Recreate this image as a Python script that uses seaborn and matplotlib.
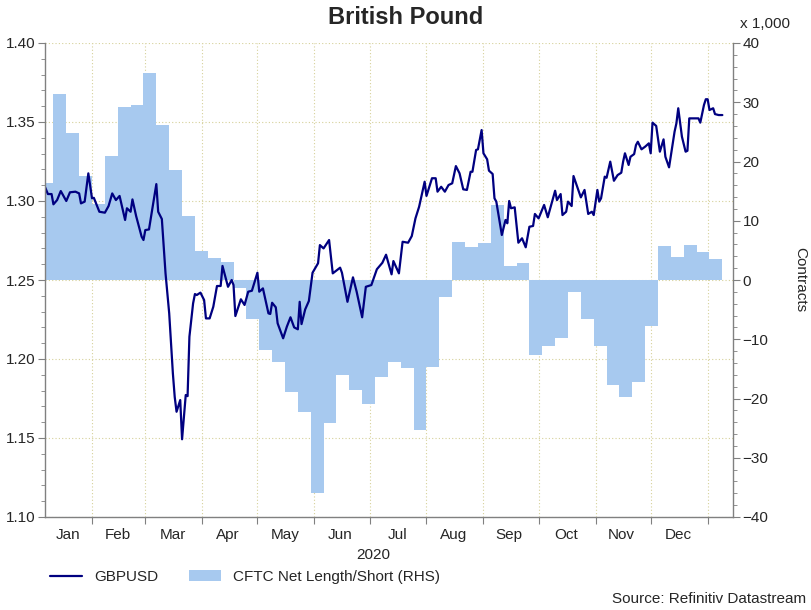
import pandas as pd
import matplotlib.pyplot as plt
import matplotlib.dates as mdates
import matplotlib.ticker as mticker
from matplotlib.lines import Line2D
from matplotlib.patches import Patch
import seaborn as sns

# GBPUSD spot
gbp_dates = [
    "2020-01-06", "2020-01-08", "2020-01-10", "2020-01-11", "2020-01-13", "2020-01-15", "2020-01-18", "2020-01-20", "2020-01-23", "2020-01-25",
    "2020-01-26", "2020-01-28", "2020-01-30", "2020-02-01", "2020-02-02", "2020-02-05", "2020-02-08", "2020-02-10", "2020-02-12", "2020-02-14",
    "2020-02-16", "2020-02-19", "2020-02-20", "2020-02-22", "2020-02-23", "2020-02-25", "2020-02-28", "2020-02-29", "2020-03-01", "2020-03-03",
    "2020-03-05", "2020-03-07", "2020-03-08", "2020-03-10", "2020-03-12", "2020-03-14", "2020-03-16", "2020-03-17", "2020-03-18", "2020-03-20",
    "2020-03-21", "2020-03-23", "2020-03-24", "2020-03-25", "2020-03-27", "2020-03-28", "2020-03-29", "2020-03-31", "2020-04-02", "2020-04-03",
    "2020-04-05", "2020-04-07", "2020-04-09", "2020-04-11", "2020-04-12", "2020-04-15", "2020-04-17", "2020-04-18", "2020-04-19", "2020-04-22",
    "2020-04-24", "2020-04-26", "2020-04-28", "2020-05-01", "2020-05-02", "2020-05-04", "2020-05-07", "2020-05-08", "2020-05-09", "2020-05-11",
    "2020-05-12", "2020-05-13", "2020-05-15", "2020-05-17", "2020-05-19", "2020-05-21", "2020-05-23", "2020-05-24", "2020-05-25", "2020-05-27",
    "2020-05-29", "2020-05-31", "2020-06-03", "2020-06-04", "2020-06-06", "2020-06-09", "2020-06-11", "2020-06-15", "2020-06-16", "2020-06-19",
    "2020-06-22", "2020-06-24", "2020-06-27", "2020-06-29", "2020-07-02", "2020-07-05", "2020-07-08", "2020-07-10", "2020-07-13", "2020-07-14",
    "2020-07-17", "2020-07-19", "2020-07-22", "2020-07-24", "2020-07-26", "2020-07-28", "2020-07-31", "2020-08-01", "2020-08-04", "2020-08-06",
    "2020-08-07", "2020-08-09", "2020-08-11", "2020-08-13", "2020-08-15", "2020-08-17", "2020-08-19", "2020-08-21", "2020-08-23", "2020-08-25",
    "2020-08-26", "2020-08-28", "2020-08-29", "2020-08-31", "2020-09-01", "2020-09-03", "2020-09-04", "2020-09-06", "2020-09-07", "2020-09-08",
    "2020-09-11", "2020-09-13", "2020-09-14", "2020-09-15", "2020-09-16", "2020-09-18", "2020-09-20", "2020-09-22", "2020-09-24", "2020-09-26",
    "2020-09-28", "2020-09-29", "2020-10-01", "2020-10-04", "2020-10-06", "2020-10-10", "2020-10-11", "2020-10-13", "2020-10-14", "2020-10-16",
    "2020-10-17", "2020-10-19", "2020-10-20", "2020-10-22", "2020-10-24", "2020-10-26", "2020-10-28", "2020-10-30", "2020-10-31", "2020-11-02",
    "2020-11-03", "2020-11-04", "2020-11-06", "2020-11-07", "2020-11-09", "2020-11-11", "2020-11-13", "2020-11-15", "2020-11-16", "2020-11-17",
    "2020-11-19", "2020-11-20", "2020-11-22", "2020-11-23", "2020-11-24", "2020-11-26", "2020-11-28", "2020-11-30", "2020-12-01", "2020-12-02",
    "2020-12-04", "2020-12-06", "2020-12-08", "2020-12-09", "2020-12-11", "2020-12-14", "2020-12-15", "2020-12-16", "2020-12-18", "2020-12-20",
    "2020-12-21", "2020-12-22", "2020-12-25", "2020-12-27", "2020-12-28", "2020-12-30", "2020-12-31", "2021-01-01", "2021-01-02", "2021-01-04",
    "2021-01-05", "2021-01-07", "2021-01-09",
]
gbp_usd = [
    1.3100, 1.3044, 1.3044, 1.2979, 1.3006, 1.3063, 1.3000, 1.3055, 1.3059, 1.3048,
    1.2985, 1.2996, 1.3175, 1.3017, 1.3020, 1.2932, 1.2926, 1.2968, 1.3048, 1.3006,
    1.3032, 1.2880, 1.2954, 1.2932, 1.3010, 1.2905, 1.2774, 1.2753, 1.2816, 1.2820,
    1.2964, 1.3107, 1.2932, 1.2886, 1.2542, 1.2289, 1.1909, 1.1760, 1.1666, 1.1740,
    1.1492, 1.1772, 1.1765, 1.2141, 1.2352, 1.2411, 1.2405, 1.2420, 1.2373, 1.2257,
    1.2257, 1.2331, 1.2462, 1.2462, 1.2589, 1.2457, 1.2500, 1.2468, 1.2272, 1.2378,
    1.2342, 1.2426, 1.2432, 1.2546, 1.2426, 1.2447, 1.2289, 1.2285, 1.2356, 1.2327,
    1.2226, 1.2194, 1.2131, 1.2204, 1.2264, 1.2200, 1.2188, 1.2362, 1.2221, 1.2314,
    1.2367, 1.2546, 1.2606, 1.2721, 1.2700, 1.2753, 1.2542, 1.2578, 1.2546, 1.2362,
    1.2517, 1.2426, 1.2264, 1.2457, 1.2468, 1.2568, 1.2609, 1.2660, 1.2536, 1.2620,
    1.2542, 1.2742, 1.2736, 1.2778, 1.2890, 1.2964, 1.3122, 1.3032, 1.3144, 1.3144,
    1.3059, 1.3090, 1.3059, 1.3101, 1.3112, 1.3221, 1.3175, 1.3074, 1.3070, 1.3185,
    1.3185, 1.3323, 1.3327, 1.3449, 1.3302, 1.3264, 1.3192, 1.3171, 1.3017, 1.2996,
    1.2785, 1.2880, 1.2859, 1.3000, 1.2954, 1.2960, 1.2736, 1.2764, 1.2707, 1.2837,
    1.2842, 1.2918, 1.2890, 1.2975, 1.2897, 1.3065, 1.3006, 1.3044, 1.2911, 1.2932,
    1.2996, 1.2968, 1.3158, 1.3090, 1.3023, 1.3070, 1.2918, 1.2932, 1.2911, 1.3070,
    1.2996, 1.3017, 1.3154, 1.3147, 1.3249, 1.3128, 1.3164, 1.3179, 1.3249, 1.3302,
    1.3228, 1.3280, 1.3297, 1.3354, 1.3375, 1.3327, 1.3344, 1.3365, 1.3302, 1.3496,
    1.3475, 1.3312, 1.3390, 1.3280, 1.3213, 1.3439, 1.3492, 1.3587, 1.3407, 1.3312,
    1.3318, 1.3523, 1.3523, 1.3523, 1.3496, 1.3608, 1.3644, 1.3644, 1.3576, 1.3587,
    1.3550, 1.3544, 1.3544,
]

# CFTC net position, thousands of contracts, one value per week
cftc_first_week = "2020-01-04"
cftc_net = [
    16.3, 31.4, 24.8, 17.6, 12.9, 20.9, 29.2, 29.5, 35.0, 26.2,
    18.6, 10.8, 4.9, 3.7, 3.1, -1.4, -6.6, -11.8, -13.8, -18.9,
    -22.2, -36.0, -24.1, -16.0, -18.5, -20.9, -16.3, -13.8, -14.9, -25.4,
    -14.6, -2.8, 6.4, 5.6, 6.2, 12.7, 2.3, 2.8, -12.7, -11.1,
    -9.8, -2.1, -6.6, -11.1, -17.7, -19.7, -17.2, -7.8, 5.7, 3.9,
    5.9, 4.8, 3.5,
]

month_names = ["Jan", "Feb", "Mar", "Apr", "May", "Jun", "Jul", "Aug", "Sep", "Oct", "Nov", "Dec"]
month_label_dates = ["2020-01-19", "2020-02-15", "2020-03-16", "2020-04-15", "2020-05-16", "2020-06-15",
                     "2020-07-16", "2020-08-16", "2020-09-15", "2020-10-16", "2020-11-15", "2020-12-16"]

LINE_COL = "#000080"
FILL_COL = "#a7c9ef"
AXIS_COL = "#808080"
GRID_COL = "#d6d19a"

sns.set_style("white")
plt.rcParams["font.family"] = ["Liberation Sans", "DejaVu Sans"]
plt.rcParams["font.size"] = 11

fig = plt.figure(figsize=(8.12, 6.10), dpi=100)
ax = fig.add_axes([45 / 812, 1 - 517 / 610, (733 - 45) / 812, (517 - 43) / 610])
ax_bar = ax.twinx()
ax_line = ax.twinx()

# weekly step area on the right axis
edges = pd.date_range(cftc_first_week, periods=len(cftc_net) + 1, freq="7D")
ax_bar.fill_between(edges, cftc_net + [cftc_net[-1]], 0, step="post", color=FILL_COL, lw=0)

# spot line on the left scale
gbp = pd.DataFrame({"date": pd.to_datetime(gbp_dates), "GBPUSD": gbp_usd})
sns.lineplot(data=gbp, x="date", y="GBPUSD", ax=ax_line, color=LINE_COL, lw=1.6)

xlim = (pd.Timestamp("2020-01-06 10:00"), pd.Timestamp("2021-01-14 19:00"))
ax.set_xlim(xlim)
ax.set_ylim(1.10, 1.40)
ax_line.set_ylim(1.10, 1.40)
ax_bar.set_ylim(-40, 40)

# left axis
ax.yaxis.set_major_locator(mticker.MultipleLocator(0.05))
ax.yaxis.set_minor_locator(mticker.MultipleLocator(0.01))
ax.yaxis.set_major_formatter(mticker.FormatStrFormatter("%.2f"))
ax.tick_params(axis="y", which="major", length=5, color=AXIS_COL, labelsize=11, pad=2, left=True)
ax.tick_params(axis="y", which="minor", length=3, color=AXIS_COL, left=True)

# right axis
ax_bar.yaxis.set_major_locator(mticker.MultipleLocator(10))
ax_bar.yaxis.set_minor_locator(mticker.MultipleLocator(2))
ax_bar.tick_params(axis="y", which="major", length=5, color=AXIS_COL, labelsize=11, pad=2, right=True)
ax_bar.tick_params(axis="y", which="minor", length=3, color=AXIS_COL, right=True)

# months: ticks on boundaries, names in between
ax.xaxis.set_major_locator(mdates.MonthLocator())
ax.xaxis.set_major_formatter(mticker.NullFormatter())
ax.xaxis.set_minor_locator(mticker.FixedLocator(mdates.date2num(pd.to_datetime(month_label_dates))))
ax.xaxis.set_minor_formatter(mticker.FixedFormatter(month_names))
ax.tick_params(axis="x", which="major", length=5, color=AXIS_COL, bottom=True)
ax.tick_params(axis="x", which="minor", length=0, labelsize=11, pad=8, bottom=True)
ax.set_xlabel("")
ax.set_ylabel("")
ax.text(pd.Timestamp("2020-07-03"), -0.08, "2020", transform=ax.get_xaxis_transform(),
        ha="center", va="center", fontsize=11)

ax.grid(True, which="major", axis="both", color=GRID_COL, linestyle=(0, (1, 2)), linewidth=0.8)

ax_line.yaxis.set_visible(False)
ax_line.set_xlabel("")
ax_line.set_ylabel("")
ax_bar.set_ylabel("")

for a in (ax, ax_bar):
    for s in a.spines.values():
        s.set_visible(False)
for side in ("left", "right", "bottom"):
    ax_line.spines[side].set_visible(True)
    ax_line.spines[side].set_color(AXIS_COL)
    ax_line.spines[side].set_linewidth(1.0)
ax_line.spines["top"].set_visible(False)

fig.text(0.5, 1 - 18 / 610, "British Pound", fontsize=17, fontweight="bold", ha="center", va="center")
fig.text(740 / 812, 1 - 24 / 610, "x 1,000", fontsize=11, ha="left", va="center")
fig.text(800 / 812, 1 - 280 / 610, "Contracts", fontsize=11, rotation=270, ha="center", va="center")
fig.text(806 / 812, 1 - 599 / 610, "Source: Refinitiv Datastream", fontsize=11, ha="right", va="center")

handles = [Line2D([0], [0], color=LINE_COL, lw=1.6), Patch(facecolor=FILL_COL, edgecolor="none")]
fig.legend(handles, ["GBPUSD", "CFTC Net Length/Short (RHS)"], loc="center left",
           bbox_to_anchor=(50 / 812, 1 - 577 / 610), ncol=2, frameon=False, fontsize=11,
           handlelength=2.1, handletextpad=0.8, columnspacing=2.0, borderaxespad=0, borderpad=0)

fig.savefig("out.png", dpi=100)
